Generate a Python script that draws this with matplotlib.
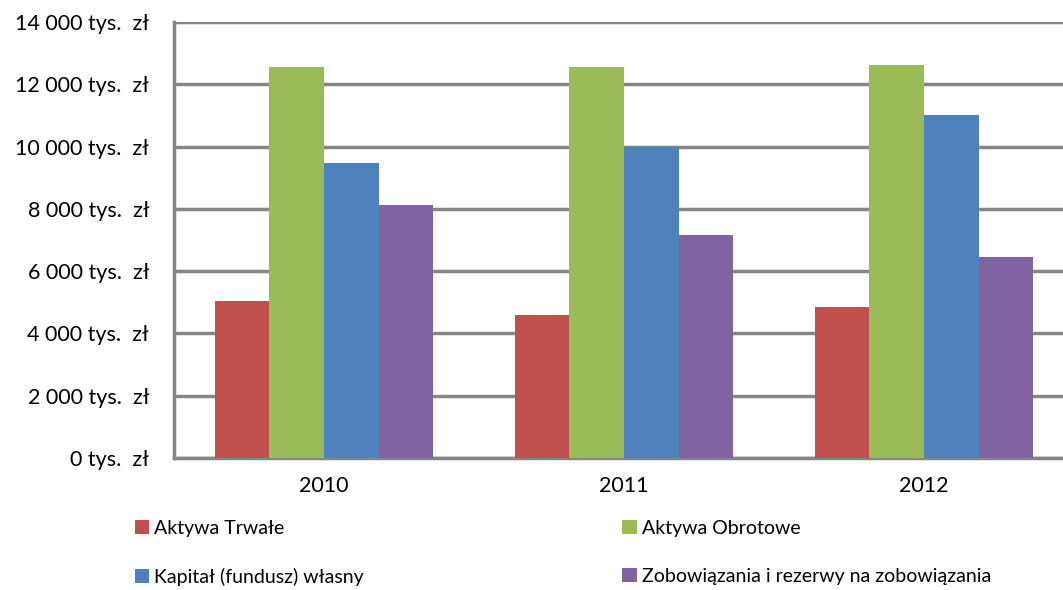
import matplotlib.pyplot as plt
import matplotlib.ticker as mticker
import numpy as np

plt.rcParams['font.family'] = ['Lato', 'DejaVu Sans']

years = ['2010', '2011', '2012']
series = ['Aktywa Trwałe', 'Aktywa Obrotowe', 'Kapitał (fundusz) własny',
          'Zobowiązania i rezerwy na zobowiązania']
aktywa_trwale = [5040, 4590, 4850]
aktywa_obrotowe = [12560, 12560, 12620]
kapital_wlasny = [9470, 9990, 11010]
zobowiazania = [8120, 7160, 6450]
colors = ['#c0504d', '#9bbb59', '#4f81bd', '#8064a2']

fig = plt.figure(figsize=(10.63, 5.9), dpi=100)
ax = fig.add_axes([174 / 1063, 132 / 590, 900 / 1063, 436 / 590])

x = np.arange(len(years))
w = 1 / 5.5
vals = [aktywa_trwale, aktywa_obrotowe, kapital_wlasny, zobowiazania]
for i, (v, c, lab) in enumerate(zip(vals, colors, series)):
    ax.bar(x + (i - 1.5) * w, v, w, color=c, label=lab, zorder=3)

ax.set_xlim(-0.5, 2.5)
ax.set_ylim(0, 14000)
ax.set_yticks(np.arange(0, 14001, 2000))
ax.yaxis.set_major_formatter(mticker.FuncFormatter(
    lambda v, p: '{:,.0f}'.format(v).replace(',', ' ') + ' tys.  zł'))
ax.set_xticks(x)
ax.set_xticklabels(years)
ax.tick_params(axis='both', length=0, labelsize=15.5, colors='black')
ax.tick_params(axis='x', pad=13)
ax.tick_params(axis='y', pad=18)
ax.grid(axis='y', color='#868686', linewidth=2.5, zorder=0)
for s in ['top', 'right']:
    ax.spines[s].set_visible(False)
for s in ['left', 'bottom']:
    ax.spines[s].set_color('#868686')
    ax.spines[s].set_linewidth(2.5)

# legend filled row by row like the original
handles, labels = ax.get_legend_handles_labels()
order = [0, 2, 1, 3]
fig.legend([handles[i] for i in order], [labels[i] for i in order], ncol=2,
           loc='upper left', bbox_to_anchor=(127 / 1063, 1 - 512 / 590),
           frameon=False, fontsize=14, handlelength=0.75, handleheight=0.75,
           handletextpad=0.25, columnspacing=13.3, labelspacing=1.6,
           borderaxespad=0)

fig.savefig('out.png', dpi=100)
